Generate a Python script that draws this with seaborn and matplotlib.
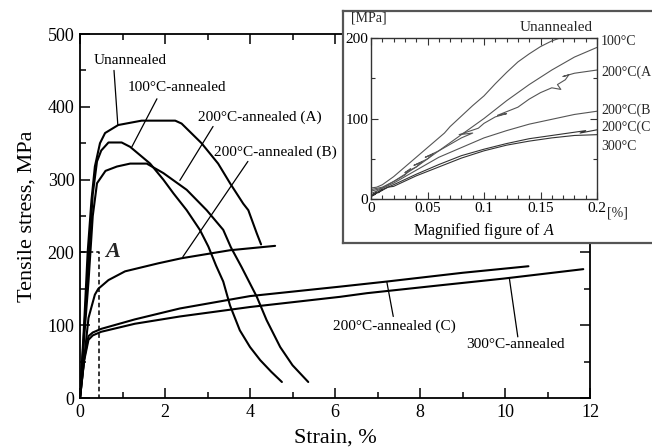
import matplotlib
matplotlib.use("Agg")
import matplotlib.pyplot as plt
import seaborn as sns
import pandas as pd
from matplotlib.ticker import MultipleLocator, FixedLocator

sns.set_theme(style="ticks")
plt.rcParams["font.family"] = ["Liberation Serif", "DejaVu Serif"]
plt.rcParams["axes.unicode_minus"] = False
plt.rcParams["mathtext.fontset"] = "custom"
plt.rcParams["mathtext.it"] = "Liberation Serif:italic"
plt.rcParams["mathtext.rm"] = "Liberation Serif"

# ---------------- main chart data (strain %, stress MPa) ----------------
unann_strain = [0, 0.1, 0.18, 0.27, 0.35, 0.47, 0.59, 0.9, 1.45, 2.24, 2.39, 2.86, 3.25, 3.53, 3.84, 3.96, 4.16, 4.26]
unann_stress = [0, 105, 200, 272, 318, 350, 364, 375, 381, 381, 377, 350, 322, 295, 267, 258, 226, 211]

c100_strain = [0, 0.1, 0.2, 0.3, 0.4, 0.5, 0.67, 0.98, 1.18, 1.65, 1.96, 2.2, 2.51, 2.82, 3.02, 3.2, 3.37, 3.53, 3.76, 4.0, 4.24, 4.5, 4.75]
c100_stress = [0, 95, 188, 280, 325, 340, 351, 351, 345, 322, 300, 281, 258, 231, 208, 182, 160, 127, 93, 70, 52, 36, 22]

c200a_strain = [0, 0.1, 0.2, 0.3, 0.4, 0.6, 0.87, 1.18, 1.57, 1.96, 2.51, 2.98, 3.37, 3.55, 3.8, 4.16, 4.39, 4.71, 5.0, 5.37]
c200a_stress = [0, 85, 160, 250, 295, 312, 318, 322, 322, 309, 286, 258, 231, 207, 180, 139, 107, 70, 45, 22]

c200b_strain = [0, 0.1, 0.2, 0.27, 0.35, 0.43, 0.67, 1.06, 1.84, 2.39, 3.53, 4.59]
c200b_stress = [0, 55, 110, 125, 142, 150, 162, 174, 185, 192, 203, 209]

c200c_strain = [0, 0.1, 0.2, 0.3, 0.5, 1.29, 2.35, 4.0, 6.12, 7.22, 9.0, 10.55]
c200c_stress = [0, 55, 85, 90, 95, 108, 123, 140, 153, 160, 172, 181]

c300_strain = [0, 0.1, 0.2, 0.3, 0.5, 1.29, 2.35, 4.0, 6.12, 6.75, 8.5, 9.96, 11.84]
c300_stress = [0, 52, 80, 86, 91, 102, 112, 125, 139, 144, 155, 164, 177]

main_labels = ["Unannealed", "100°C-annealed", "200°C-annealed (A)", "200°C-annealed (B)",
               "200°C-annealed (C)", "300°C-annealed"]

# ---------------- inset data (magnified region A) ----------------
i_un_strain = [0, 0.005, 0.01, 0.02, 0.03, 0.04, 0.05, 0.06, 0.065, 0.07, 0.08, 0.09, 0.1, 0.11, 0.12, 0.13, 0.14, 0.15, 0.16, 0.168]
i_un_stress = [14, 15, 18, 28, 40, 52, 64, 76, 82, 90, 103, 116, 128, 143, 157, 170, 180, 189, 196, 200]

i_100_strain = [0, 0.01, 0.02, 0.04, 0.06, 0.08, 0.1, 0.12, 0.14, 0.16, 0.18, 0.2]
i_100_stress = [12, 15, 22, 40, 60, 80, 100, 122, 142, 160, 176, 188]

i_200a_strain = [0, 0.01, 0.02, 0.03, 0.035, 0.03, 0.04, 0.045, 0.038, 0.05, 0.055, 0.048, 0.06, 0.07, 0.08,
                 0.09, 0.078, 0.095, 0.1, 0.11, 0.12, 0.112, 0.13, 0.14, 0.15, 0.16, 0.168, 0.165, 0.172,
                 0.175, 0.17, 0.18, 0.19, 0.2]
i_200a_stress = [10, 14, 22, 30, 38, 33, 40, 46, 42, 50, 56, 52, 60, 68, 76,
                 82, 80, 88, 94, 102, 106, 104, 114, 124, 132, 138, 136, 142, 148,
                 154, 152, 156, 158, 160]

i_200b_strain = [0, 0.02, 0.04, 0.06, 0.08, 0.1, 0.12, 0.14, 0.16, 0.18, 0.2]
i_200b_stress = [7, 20, 36, 52, 64, 76, 85, 93, 99, 105, 109]

i_200c_strain = [0, 0.005, 0.002, 0.01, 0.02, 0.04, 0.06, 0.08, 0.1, 0.12, 0.14, 0.16, 0.18, 0.19, 0.185, 0.2]
i_200c_stress = [4, 9, 6, 12, 18, 31, 43, 54, 62, 69, 75, 79, 83, 85, 82, 86]

i_300_strain = [0, 0.005, 0.002, 0.01, 0.006, 0.015, 0.02, 0.04, 0.06, 0.08, 0.1, 0.12, 0.14, 0.16, 0.18, 0.2]
i_300_stress = [3, 8, 5, 12, 8, 15, 16, 29, 40, 51, 60, 67, 72, 76, 79, 80]

# the reference crops these labels at the picture's right edge
inset_labels = ["100°C", "200°C(A", "200°C(B", "200°C(C", "300°C"]
inset_label_y = [195, 157, 110, 89, 65]

# ---------------- figure ----------------
fig = plt.figure(figsize=(6.52, 4.47), dpi=100)
fig.patch.set_facecolor("white")
ax = fig.add_axes([0.1227, 0.1096, 0.7823, 0.8143])
ax.set_facecolor("white")

curves = [(unann_strain, unann_stress), (c100_strain, c100_stress), (c200a_strain, c200a_stress),
          (c200b_strain, c200b_stress), (c200c_strain, c200c_stress), (c300_strain, c300_stress)]
for xs, ys in curves:
    sns.lineplot(x=xs, y=ys, sort=False, estimator=None, color="black", lw=1.5, ax=ax)

ax.set_xlim(0, 12)
ax.set_ylim(0, 500)
ax.xaxis.set_major_locator(MultipleLocator(2))
ax.xaxis.set_minor_locator(MultipleLocator(1))
ax.yaxis.set_major_locator(MultipleLocator(100))
ax.yaxis.set_minor_locator(MultipleLocator(50))
ax.tick_params(which="both", direction="in", top=True, right=True, width=1.1, color="black",
               labelsize=13, labelcolor="black", pad=4)
ax.tick_params(which="major", length=7)
ax.tick_params(which="minor", length=4)
for s in ax.spines.values():
    s.set_linewidth(1.3)
    s.set_color("black")
ax.set_xlabel("Strain, %", fontsize=16, color="black", labelpad=6)
ax.set_ylabel("Tensile stress, MPa", fontsize=16, color="black", labelpad=8)

# labels with leader lines
label_pos = [(1.18, 464), (2.29, 426), (4.24, 385), (4.6, 338), (7.39, 99), (10.24, 73)]
leader_start = [(0.80, 450), (1.81, 411), (3.13, 373), (3.95, 325), (7.37, 112), (10.3, 84)]
leader_end = [(0.89, 375), (1.22, 345), (2.35, 299), (2.42, 194), (7.22, 159), (10.1, 165)]
for txt, p, s0, s1 in zip(main_labels, label_pos, leader_start, leader_end):
    ax.text(p[0], p[1], txt, fontsize=11, ha="center", va="center", color="black")
    ax.plot([s0[0], s1[0]], [s0[1], s1[1]], color="black", lw=0.9)

# dashed box A
ax.plot([0.03, 0.45, 0.45], [200, 200, 0], ls=(0, (3, 2)), color="black", lw=1.1)
ax.text(0.76, 201, "A", fontsize=16, fontstyle="italic", fontweight="bold", ha="center", va="center")

# inset frame
fr = fig.add_axes([343 / 652, 1 - 243 / 447, 0.49, (243 - 11) / 447])
fr.set_facecolor("white")
fr.set_xticks([])
fr.set_yticks([])
for s in fr.spines.values():
    s.set_color("#555555")
    s.set_linewidth(1.6)

ins = fig.add_axes([371 / 652, 1 - 199.3 / 447, 226 / 652, (199.3 - 37.7) / 447])
ins.set_facecolor("white")
inset_curves = [(i_un_strain, i_un_stress), (i_100_strain, i_100_stress), (i_200a_strain, i_200a_stress),
                (i_200b_strain, i_200b_stress), (i_200c_strain, i_200c_stress), (i_300_strain, i_300_stress)]
inset_colors = ["#555555", "#555555", "#555555", "#555555", "#333333", "#333333"]
for (xs, ys), col in zip(inset_curves, inset_colors):
    sns.lineplot(x=xs, y=ys, sort=False, estimator=None, color=col, lw=0.8, ax=ins)
ins.set_xlim(0, 0.2)
ins.set_ylim(0, 200)
ins.xaxis.set_major_locator(FixedLocator([0, 0.05, 0.1, 0.15, 0.2]))
ins.set_xticklabels(["0", "0.05", "0.1", "0.15", "0.2"])
ins.xaxis.set_minor_locator(MultipleLocator(0.01))
ins.yaxis.set_major_locator(MultipleLocator(100))
ins.yaxis.set_minor_locator(MultipleLocator(50))
ins.tick_params(which="both", direction="in", top=True, right=True, width=0.8, color="#333333",
                labelsize=11, labelcolor="black", pad=2)
ins.tick_params(which="major", length=5)
ins.tick_params(which="minor", length=3)
for s in ins.spines.values():
    s.set_color("#333333")
    s.set_linewidth(1.0)
ins.set_xlabel("Magnified figure of $\\mathit{A}$", fontsize=11.5, labelpad=4, color="black")
ins.text(-0.002, 224, "[MPa]", fontsize=10, ha="center", va="center", clip_on=False)
ins.text(0.2177, -17, "[%]", fontsize=10, ha="center", va="center", clip_on=False)
ins.text(0.164, 213, "Unannealed", fontsize=11, ha="center", va="center", clip_on=False)
for txt, yy in zip(inset_labels, inset_label_y):
    ins.text(0.2035, yy, txt, fontsize=10, ha="left", va="center", clip_on=False)

fig.savefig("out.png", dpi=100)
